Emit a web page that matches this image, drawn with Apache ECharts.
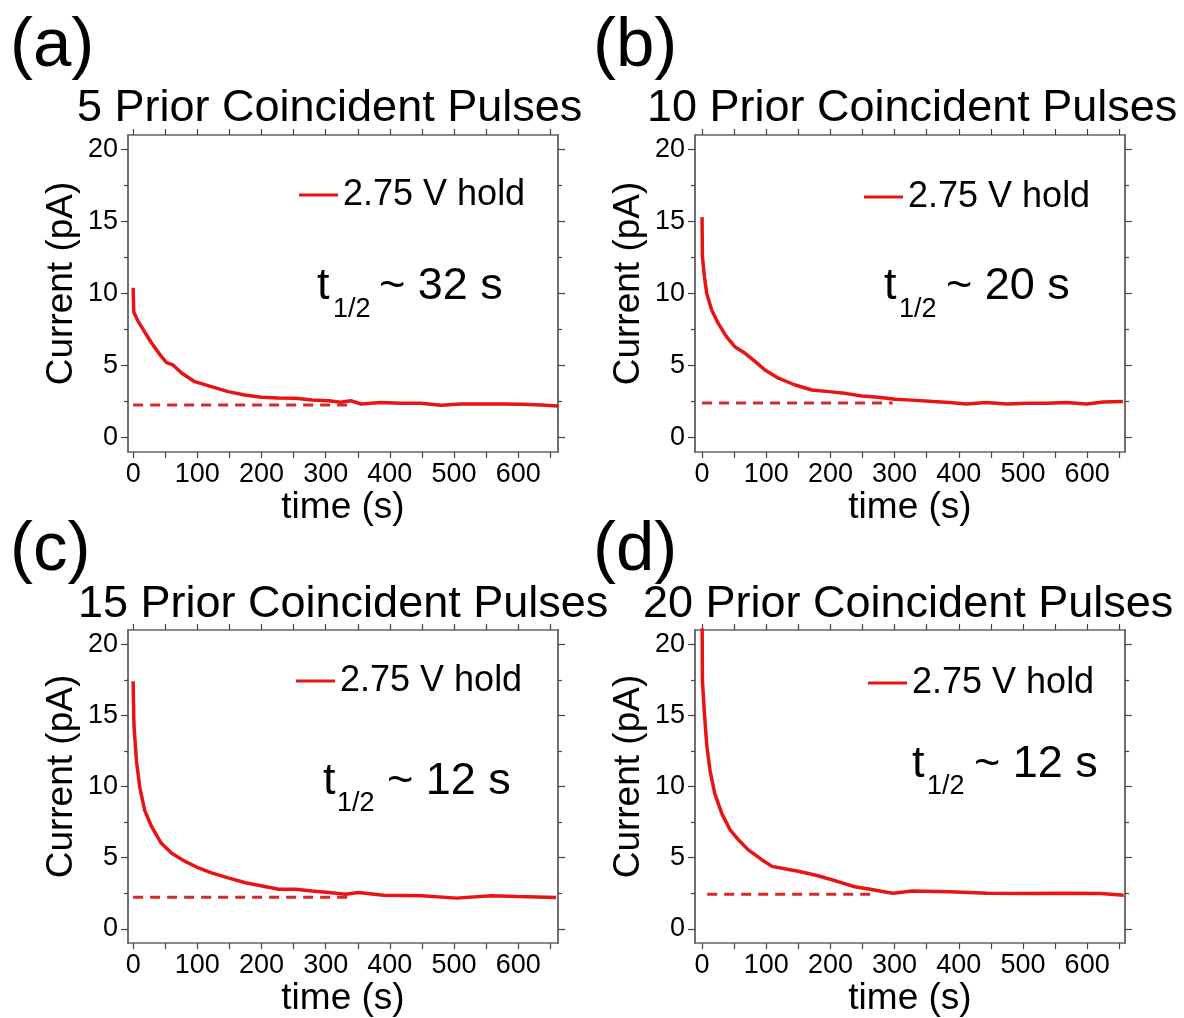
<!DOCTYPE html>
<html>
<head>
<meta charset="utf-8">
<script src="https://cdn.jsdelivr.net/npm/echarts@6/dist/echarts.min.js"></script>
<style>
html, body {margin: 0; padding: 0; background: #fff;}
#chart {width: 1184px; height: 1018px;}
</style>
</head>
<body>
<div id="chart"></div>
<script>
/// values: time (s) and current (pA)

time_a = [0, 1, 8, 16, 29, 42, 52, 62, 76, 96, 122, 148, 174, 200, 226, 253, 279, 305, 323, 339, 355, 386, 417, 448, 480, 511, 542, 573, 605, 636, 662]
current_a = [10.4, 8.7, 8.05, 7.47, 6.55, 5.74, 5.2, 5.04, 4.46, 3.88, 3.54, 3.19, 2.96, 2.8, 2.75, 2.73, 2.61, 2.56, 2.45, 2.56, 2.33, 2.43, 2.38, 2.38, 2.24, 2.33, 2.33, 2.33, 2.31, 2.26, 2.19]

time_b = [0, 0.5, 3.6, 7.3, 15, 25, 38, 51, 67, 83, 98, 119, 145, 171, 197, 223, 249, 275, 301, 327, 360, 386, 412, 443, 475, 506, 537, 568, 599, 625, 656]
current_b = [15.3, 12.6, 11.2, 10.0, 8.86, 7.94, 7.01, 6.31, 5.85, 5.27, 4.69, 4.12, 3.65, 3.3, 3.19, 3.07, 2.89, 2.8, 2.66, 2.6, 2.5, 2.43, 2.33, 2.43, 2.33, 2.38, 2.38, 2.43, 2.33, 2.47, 2.5]

time_c = [0, 1, 1.6, 5.2, 10.4, 18, 29, 44, 60, 81, 102, 122, 148, 175, 201, 227, 253, 279, 305, 331, 351, 390, 450, 504, 558, 599, 659]
current_c = [17.4, 14.8, 14.1, 11.8, 9.93, 8.32, 7.16, 6.01, 5.31, 4.74, 4.28, 3.93, 3.58, 3.24, 3.01, 2.78, 2.78, 2.66, 2.55, 2.44, 2.55, 2.37, 2.32, 2.16, 2.32, 2.27, 2.2]

time_d = [0, 0.5, 3.6, 7.3, 12.5, 20, 31, 44, 57, 72, 93, 109, 135, 150, 179, 209, 238, 262, 290, 298, 327, 386, 445, 504, 563, 622, 657]
current_d = [23, 17.5, 15.2, 12.9, 11.1, 9.47, 8.08, 6.93, 6.24, 5.55, 4.86, 4.39, 4.17, 4.05, 3.75, 3.36, 2.96, 2.78, 2.55, 2.51, 2.66, 2.6, 2.5, 2.48, 2.5, 2.48, 2.37]

// dashed steady-state level and where it runs
baseline_level = [2.26, 2.4, 2.22, 2.43]
baseline_start = [0, 0, 0, 8]
baseline_end = [340, 297, 340, 271]

panel_letters = ['(a)', '(b)', '(c)', '(d)']
pulse_counts = [5, 10, 15, 20]
half_lives = [32, 20, 12, 12]
series_name = '2.75 V hold'

x_labels = [0, 100, 200, 300, 400, 500, 600]
x_ticks = [0, 50, 100, 150, 200, 250, 300, 350, 400, 450, 500, 550, 600, 650]
y_labels = [0, 5, 10, 15, 20]
y_minor_ticks = [2.5, 7.5, 12.5, 17.5]

times = [time_a, time_b, time_c, time_d]
currents = [current_a, current_b, current_c, current_d]

/// layout, in page pixels

FONT = '"Liberation Sans", Arial, sans-serif'
RED = '#e81414'
AXIS = '#666'

layout = [
    {grid: {left: 128, top: 135, width: 430, height: 317}, xmin: -8, xmax: 662,
     letter: [10, 47], title: [77, 109], legend: [294, 172], t: [317, 287], sub: [333, 310], tilde: [379, 287]},
    {grid: {left: 695, top: 135, width: 430, height: 317}, xmin: -11, xmax: 659,
     letter: [593, 47], title: [647, 109], legend: [859, 174], t: [884, 287], sub: [899, 310], tilde: [946, 287]},
    {grid: {left: 128, top: 630, width: 430, height: 318}, xmin: -8, xmax: 662,
     letter: [10, 551], title: [78, 605], legend: [291, 658], t: [323, 782], sub: [337, 804], tilde: [387, 782]},
    {grid: {left: 695, top: 630, width: 430, height: 318}, xmin: -11, xmax: 659,
     letter: [593, 551], title: [643, 605], legend: [863, 660], t: [912, 765], sub: [927, 787], tilde: [974, 765]},
]

function x_axis (i, position, with_labels) {
    return {
        type: 'value', gridIndex: i, position: position,
        min: layout[i].xmin, max: layout[i].xmax,
        splitLine: {show: false},
        axisLine: {onZero: false, lineStyle: {color: AXIS, width: 1.5}},
        axisTick: {customValues: x_ticks, length: 6, lineStyle: {color: '#444', width: 1.2}},
        axisLabel: with_labels
            ? {customValues: x_labels, fontSize: 27, fontFamily: FONT, color: '#000', margin: 9}
            : {show: false},
        name: with_labels ? 'time (s)' : '',
        nameLocation: 'middle', nameGap: 33,
        nameTextStyle: {fontSize: 37, fontFamily: FONT, color: '#000'},
    }
}

function y_axis (i, position, major, with_labels) {
    return {
        type: 'value', gridIndex: i, position: position,
        min: -1, max: 21,
        splitLine: {show: false},
        axisLine: {onZero: false, lineStyle: {color: AXIS, width: 1.5}},
        axisTick: {customValues: major ? y_labels : y_minor_ticks, length: major ? 7 : 4,
                   lineStyle: {color: '#444', width: 1.2}},
        axisLabel: with_labels
            ? {customValues: y_labels, fontSize: 27, fontFamily: FONT, color: '#000', margin: 10}
            : {show: false},
        name: with_labels ? 'Current (pA)' : '',
        nameLocation: 'middle', nameGap: 48,
        nameTextStyle: {fontSize: 37, fontFamily: FONT, color: '#000', padding: [0, 0, 0, 20]},
    }
}

function text_el (x, y, text, size) {
    return {
        type: 'text', x: x, y: y, silent: true,
        style: {text: text, fontSize: size, fontFamily: FONT, fill: '#000', align: 'left', verticalAlign: 'middle'}
    }
}

grids = []
xAxes = []
yAxes = []
series = []
legends = []
graphics = []

layout.forEach(function (p, i) {
    grids.push(p.grid)
    xAxes.push(x_axis(i, 'bottom', true), x_axis(i, 'top', false))
    yAxes.push(y_axis(i, 'left', true, true), y_axis(i, 'left', false, false),
               y_axis(i, 'right', true, false), y_axis(i, 'right', false, false))

    series.push({
        type: 'line', name: 'baseline ' + i,
        xAxisIndex: 2 * i, yAxisIndex: 4 * i,
        data: [[baseline_start[i], baseline_level[i]], [baseline_end[i], baseline_level[i]]],
        symbol: 'none', z: 2,
        lineStyle: {color: '#d42a2a', width: 3, type: [10, 7]},
    })
    series.push({
        type: 'line', name: series_name,
        xAxisIndex: 2 * i, yAxisIndex: 4 * i,
        data: times[i].map((t, k) => [t, currents[i][k]]),
        symbol: 'none', clip: true, z: 3,
        lineStyle: {color: RED, width: 3.5},
        itemStyle: {color: RED},
    })

    legends.push({
        data: [series_name], left: p.legend[0], top: p.legend[1],
        icon: 'rect', itemWidth: 39, itemHeight: 3, itemGap: 0,
        selectedMode: false,
        textStyle: {fontSize: 36, fontFamily: FONT, color: '#000', padding: [0, 0, 14, 0]},
    })

    graphics.push(text_el(p.letter[0], p.letter[1], panel_letters[i], 69))
    graphics.push(text_el(p.title[0], p.title[1], pulse_counts[i] + ' Prior Coincident Pulses', 45))
    graphics.push(text_el(p.t[0], p.t[1], 't', 45))
    graphics.push(text_el(p.sub[0], p.sub[1], '1/2', 27))
    graphics.push(text_el(p.tilde[0], p.tilde[1], '~ ' + half_lives[i] + ' s', 45))
})

option = {
    animation: false,
    backgroundColor: '#fff',
    grid: grids,
    xAxis: xAxes,
    yAxis: yAxes,
    legend: legends,
    series: series,
    graphic: graphics,
}

chart = echarts.init(document.getElementById('chart'))
chart.setOption(option)
</script>
</body>
</html>
